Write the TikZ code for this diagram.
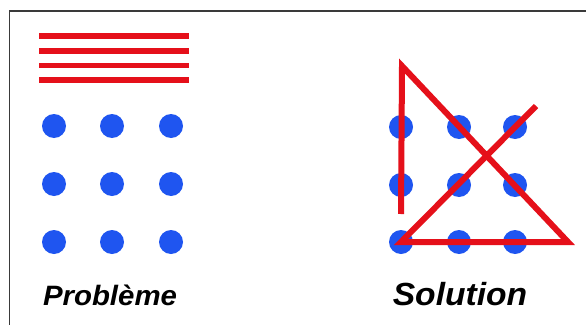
\documentclass[tikz,border=0pt]{standalone}
\usepackage{fontspec}
\setmainfont{Liberation Sans}
\definecolor{dotblue}{HTML}{1F55F0}
\definecolor{linered}{HTML}{E5101A}
\definecolor{framegray}{HTML}{3A3A3A}
\begin{document}
\begin{tikzpicture}[x=1pt,y=-1pt,
  dotstyle/.style={circle,fill=dotblue,draw=none,minimum size=24pt,inner sep=0pt},
  stripe/.style={draw=linered,line width=5.5pt},
  solpath/.style={draw=linered,line width=6pt,line join=miter,miter limit=20},
  caption/.style={font=\bfseries\itshape,text=black,inner sep=0pt,anchor=base}]
\useasboundingbox (0,0) rectangle (586,324);
\fill[white] (0,0) rectangle (586,324);
\draw[framegray,line width=1.6pt] (9.5,330) -- (9.5,11) -- (590,11);
% stripes
\foreach \i/\y in {1/36,2/51,3/65.5,4/80}{
  \coordinate (sL\i) at (39,\y);
  \coordinate (sR\i) at (189,\y);
  \draw[stripe] (sL\i) -- (sR\i);
}
% problem dots
\foreach \c/\x in {1/54,2/112,3/171}{
  \foreach \r/\y in {1/126,2/184,3/242}{
    \node[dotstyle] (p\r\c) at (\x,\y) {};
  }
}
% solution dots
\foreach \c/\x in {1/401,2/459,3/515}{
  \foreach \r/\y in {1/127,2/185,3/242}{
    \node[dotstyle] (s\r\c) at (\x,\y) {};
  }
}
\coordinate (start) at (401,214);
\coordinate (top) at (402,66);
\coordinate (corner) at (568,242);
\coordinate (tail) at (536,106);
\draw[solpath] (start) -- (top) -- (corner) -- (s31.center) -- (tail);
\node[caption,xscale=1.05] (prob) at (110,305) {\fontsize{28}{30}\selectfont Problème};
\node[caption,xscale=1.05] (sol) at (460,305) {\fontsize{32}{34}\selectfont Solution};
\end{tikzpicture}
\end{document}
